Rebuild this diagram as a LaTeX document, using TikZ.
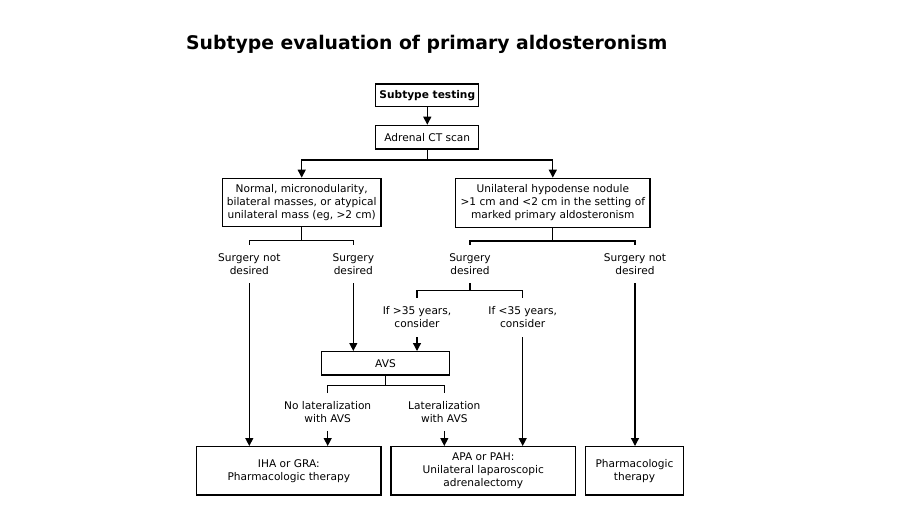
\documentclass[tikz,border=0pt]{standalone}
\usepackage{fontspec}
\setmainfont{DejaVu Sans}
\usetikzlibrary{arrows.meta}
\begin{document}
\begin{tikzpicture}[x=1pt,y=-1pt,
  every node/.style={font=\fontsize{10.6}{13}\selectfont, align=center, inner sep=0pt},
  box/.style={draw, line width=1.3pt},
  lbl/.style={minimum height=38pt},
  ln/.style={line width=1.3pt},
  arr/.style={line width=1.3pt, -{Triangle[length=8pt,width=8pt]}}]
\useasboundingbox (0,0) rectangle (900,506);
\node[anchor=base west, font=\fontsize{18.8}{22}\selectfont\bfseries] (title) at (186,49) {Subtype evaluation of primary aldosteronism};
% boxes
\node[box, minimum width=103pt, minimum height=22.7pt, font=\fontsize{10.6}{13}\selectfont\bfseries] (st) at (427.3,95.3) {Subtype testing};
\node[box, minimum width=103pt, minimum height=23.7pt] (ct) at (427.3,137.2) {Adrenal CT scan};
\node[box, minimum width=158.7pt, minimum height=48.4pt] (L) at (301.7,202.5) {Normal, micronodularity,\\bilateral masses, or atypical\\unilateral mass (eg, >2 cm)};
\node[box, minimum width=194.3pt, minimum height=49pt] (R) at (552.8,202.8) {Unilateral hypodense nodule\\>1 cm and <2 cm in the setting of\\marked primary aldosteronism};
\node[box, minimum width=127.6pt, minimum height=23.3pt] (avs) at (385.5,363.3) {AVS};
\node[box, minimum width=184.3pt, minimum height=48.3pt] (b1) at (288.8,470.8) {IHA or GRA:\\Pharmacologic therapy};
\node[box, minimum width=184.7pt, minimum height=48.3pt] (b2) at (483.3,470.8) {APA or PAH:\\Unilateral laparoscopic\\adrenalectomy};
\node[box, minimum width=97.6pt, minimum height=48.3pt] (b3) at (634.5,470.8) {Pharmacologic\\therapy};
% labels
\node[lbl] (sn1) at (249.3,264) {Surgery not\\desired};
\node[lbl] (sd1) at (353.3,264) {Surgery\\desired};
\node[lbl] (sd2) at (470,264) {Surgery\\desired};
\node[lbl] (sn2) at (635,264) {Surgery not\\desired};
\node[lbl, minimum height=39pt] (c1) at (417,317.5) {If >35 years,\\consider};
\node[lbl, minimum height=39pt] (c2) at (522.7,317.5) {If <35 years,\\consider};
\node[lbl, minimum height=37.4pt] (nl) at (327.7,412) {No lateralization\\with AVS};
\node[lbl, minimum height=37.4pt] (la) at (444.3,412) {Lateralization\\with AVS};
% junctions
\coordinate (jct) at ([yshift=-10.3pt]ct.south);
\coordinate (jL) at ([yshift=-13.3pt]L.south);
\coordinate (jR) at ([yshift=-13pt]R.south);
\coordinate (jsd) at ([yshift=-7pt]sd2.south);
\coordinate (javs) at ([yshift=-10pt]avs.south);
% connectors
\draw[arr] (st) -- (ct);
\draw[ln] (ct.south) -- (jct);
\draw[arr] (jct) -| (L.north);
\draw[arr] (jct) -| (R.north);
\draw[ln] (L.south) -- (jL);
\draw[ln] (sn1.north) |- (jL) -| (sd1.north);
\draw[ln] (R.south) -- (jR);
\draw[ln] (sd2.north) |- (jR) -| (sn2.north);
\draw[ln] (sd2.south) -- (jsd);
\draw[ln] (c1.north) |- (jsd) -| (c2.north);
\draw[ln] (avs.south) -- (javs);
\draw[ln] (nl.north) |- (javs) -| (la.north);
\draw[arr] (sn1.south) -- (sn1.south |- b1.north);
\draw[arr] (sd1.south) -- (sd1.south |- avs.north);
\draw[arr] (c1.south) -- (c1.south |- avs.north);
\draw[arr] (c2.south) -- (c2.south |- b2.north);
\draw[arr] (sn2.south) -- (sn2.south |- b3.north);
\draw[arr] (nl.south) -- (nl.south |- b1.north);
\draw[arr] (la.south) -- (la.south |- b2.north);
\end{tikzpicture}
\end{document}
